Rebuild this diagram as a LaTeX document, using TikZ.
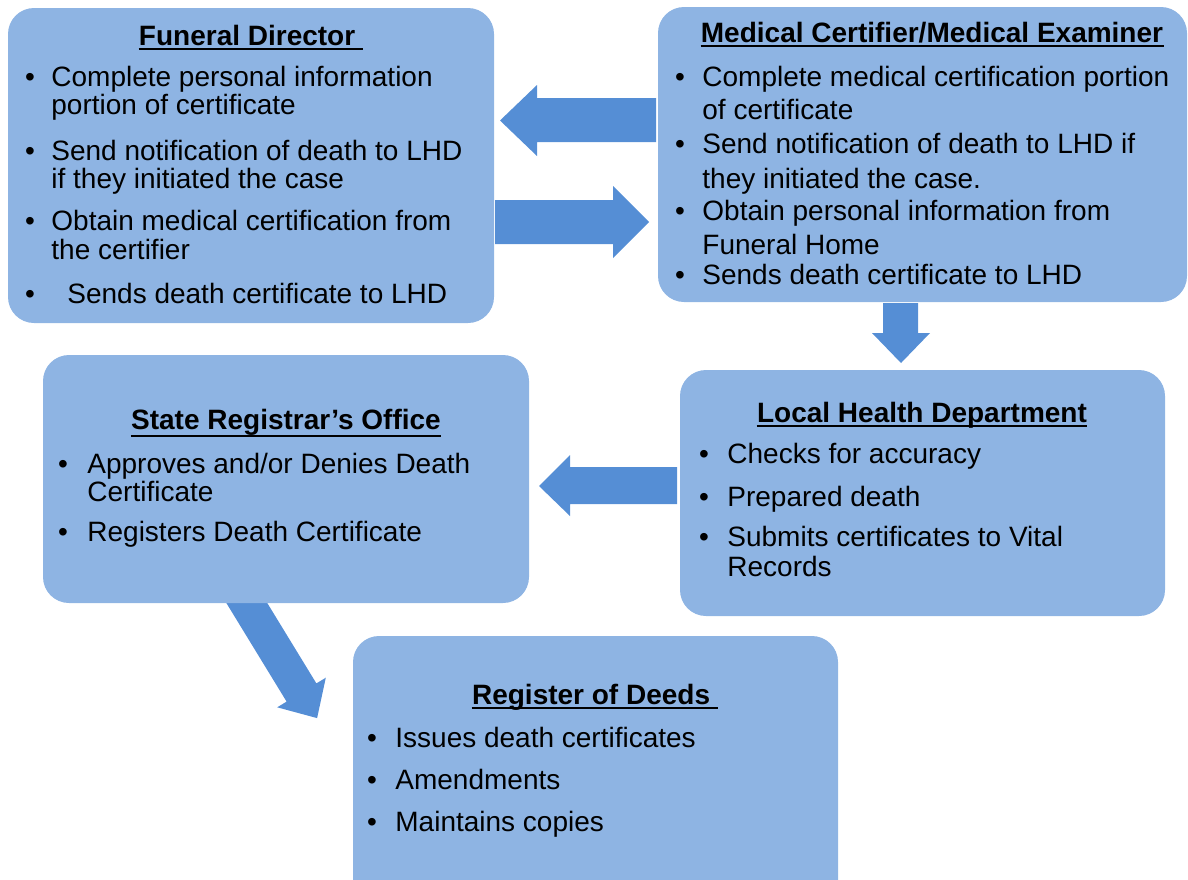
\documentclass[tikz,border=0pt]{standalone}
\usepackage{fontspec}
\setmainfont{Liberation Sans}
\usetikzlibrary{fit}
\definecolor{boxc}{HTML}{8EB4E3}
\definecolor{arrc}{HTML}{558ED5}
\begin{document}
\begin{tikzpicture}[x=0.5pt,y=-0.5pt,
  box/.style={fill=boxc, draw=none, rounded corners=13pt, inner sep=0pt},
  arr/.style={fill=arrc, draw=none},
  txt/.style={anchor=base west, inner sep=0pt, font=\fontsize{14pt}{17pt}\selectfont},
  bul/.style={anchor=base, inner sep=0pt, font=\fontsize{14pt}{17pt}\selectfont},
  ttl/.style={anchor=base, inner sep=0pt, font=\fontsize{14pt}{17pt}\selectfont\bfseries},
  uline/.style={line width=1pt, black}]
\useasboundingbox (0,0) rectangle (1188,879);
\clip (0,0) rectangle (1188,879);

% block arrows (drawn first, boxes cover their tails)
\fill[arr] (656,98) -- (537,98) -- (537,85) -- (500,120.5) -- (537,156) -- (537,142) -- (656,142) -- cycle;
\fill[arr] (495,200) -- (613,200) -- (613,186) -- (649,222) -- (613,258) -- (613,244) -- (495,244) -- cycle;
\fill[arr] (883,303) -- (918,303) -- (918,333) -- (930,333) -- (901,363) -- (872,333) -- (883,333) -- cycle;
\fill[arr] (677,467) -- (570,467) -- (570,455) -- (539,486) -- (570,516) -- (570,504) -- (677,504) -- cycle;
\fill[arr] (250.7,575.9) -- (316.4,683.4) -- (325.8,677.7) -- (317.1,718.1) -- (277.2,707.3) -- (286.6,701.6) -- (220.9,594.1) -- cycle;

% boxes
\node[box, fit={(8,8) (494,323)}] (fd) {};
\node[box, fit={(658,7) (1187,302)}] (mc) {};
\node[box, fit={(43,355) (529,603)}] (sr) {};
\node[box, fit={(680,370) (1165,616)}] (lhd) {};
\node[box, fit={(353,636) (838,910)}] (rod) {};

% Funeral Director
\node[ttl] (fdt) at (251,45) {Funeral Director\kern0.278em};
\draw[uline] ([yshift=-2.2pt]fdt.base west) -- ([yshift=-2.2pt]fdt.base east);
\node[bul] (fdb1) at (30,86) {\textbullet};
\node[txt] (fd1) at (51,86) {Complete personal information};
\node[txt] (fd2) at (51,114) {portion of certificate};
\node[bul] (fdb2) at (30,160) {\textbullet};
\node[txt] (fd3) at (51,160) {Send notification of death to LHD};
\node[txt] (fd4) at (51,188) {if they initiated the case};
\node[bul] (fdb3) at (30,230) {\textbullet};
\node[txt] (fd5) at (51,230) {Obtain medical certification from};
\node[txt] (fd6) at (51,259) {the certifier};
\node[bul] (fdb4) at (30,303) {\textbullet};
\node[txt] (fd7) at (67,303) {Sends death certificate to LHD};

% Medical Certifier
\node[ttl] (mct) at (932,42) {Medical Certifier/Medical Examiner};
\draw[uline] ([yshift=-2.2pt]mct.base west) -- ([yshift=-2.2pt]mct.base east);
\node[bul] (mcb1) at (680,86) {\textbullet};
\node[txt] (mc1) at (702,86) {Complete medical certification portion};
\node[txt] (mc2) at (702,119) {of certificate};
\node[bul] (mcb2) at (680,153) {\textbullet};
\node[txt] (mc3) at (702,153) {Send notification of death to LHD if};
\node[txt] (mc4) at (702,188) {they initiated the case.};
\node[bul] (mcb3) at (680,220) {\textbullet};
\node[txt] (mc5) at (702,220) {Obtain personal information from};
\node[txt] (mc6) at (702,254) {Funeral Home};
\node[bul] (mcb4) at (680,284) {\textbullet};
\node[txt] (mc7) at (702,284) {Sends death certificate to LHD};

% State Registrar
\node[ttl] (srt) at (286,429) {State Registrar’s Office};
\draw[uline] ([yshift=-3.5pt]srt.base west) -- ([yshift=-3.5pt]srt.base east);
\node[bul] (srb1) at (63,473) {\textbullet};
\node[txt] (sr1) at (87,473) {Approves and/or Denies Death};
\node[txt] (sr2) at (87,501) {Certificate};
\node[bul] (srb2) at (63,541) {\textbullet};
\node[txt] (sr3) at (87,541) {Registers Death Certificate};

% Local Health Department
\node[ttl] (lhdt) at (922,422) {Local Health Department};
\draw[uline] ([yshift=-2.2pt]lhdt.base west) -- ([yshift=-2.2pt]lhdt.base east);
\node[bul] (lhdb1) at (704,463) {\textbullet};
\node[txt] (lhd1) at (727,463) {Checks for accuracy};
\node[bul] (lhdb2) at (704,506) {\textbullet};
\node[txt] (lhd2) at (727,506) {Prepared death};
\node[bul] (lhdb3) at (704,546) {\textbullet};
\node[txt] (lhd3) at (727,546) {Submits certificates to Vital};
\node[txt] (lhd4) at (727,576) {Records};

% Register of Deeds
\node[ttl] (rodt) at (595,704) {Register of Deeds\kern0.278em};
\draw[uline] ([yshift=-2.2pt]rodt.base west) -- ([yshift=-2.2pt]rodt.base east);
\node[bul] (rodb1) at (372,747) {\textbullet};
\node[txt] (rod1) at (395,747) {Issues death certificates};
\node[bul] (rodb2) at (372,789) {\textbullet};
\node[txt] (rod2) at (395,789) {Amendments};
\node[bul] (rodb3) at (372,831) {\textbullet};
\node[txt] (rod3) at (395,831) {Maintains copies};
\end{tikzpicture}
\end{document}
